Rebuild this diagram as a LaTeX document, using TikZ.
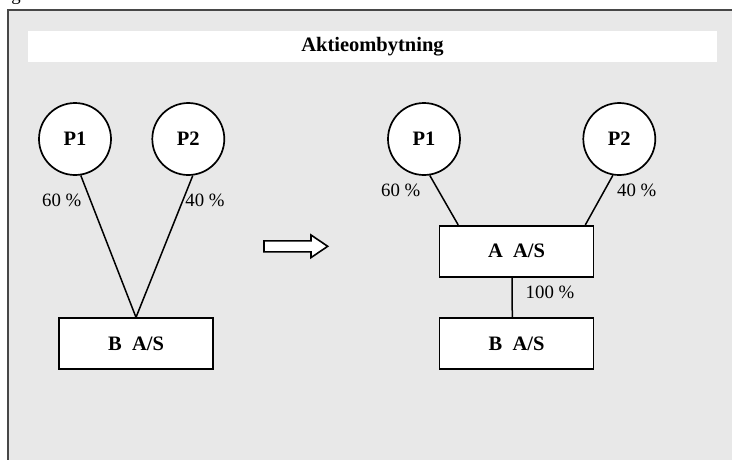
\documentclass[tikz,border=0pt]{standalone}
\usepackage{fontspec}
\setmainfont{Liberation Serif}
\begin{document}
\begin{tikzpicture}[x=1pt,y=-1pt,
  owner/.style={circle,draw,line width=1.7pt,fill=white,minimum size=72pt,inner sep=0pt,
    font=\fontsize{20.5}{24}\selectfont\bfseries},
  company/.style={rectangle,draw,line width=1.7pt,fill=white,minimum width=154pt,minimum height=51pt,
    inner sep=0pt,font=\fontsize{20.5}{24}\selectfont\bfseries},
  share/.style={inner sep=0pt,font=\fontsize{18.8}{22}\selectfont},
  link/.style={line width=1.5pt}]
\useasboundingbox (0,0) rectangle (732,459);
\clip (0,0) rectangle (732,459);

% caption line above the frame (only its descender shows)
\node[share,anchor=base] (cap) at (16,0) {g};

% frame and title bar
\draw[line width=1.9pt,draw=black!72,fill=black!9] (8,10) rectangle (745,470);
\fill[white] (28,31) rectangle (717,62);
\node[font=\fontsize{20.5}{24}\selectfont\bfseries] (title) at (372.5,46.5) {Aktieombytning};

% before: P1 and P2 own B directly
\node[owner] (lp1) at (75,139) {P1};
\node[owner] (lp2) at (188.3,139) {P2};
\node[company] (lb) at (136,343.7) {B\ \ A/S};
\draw[link] (lp1.-81) -- (lb.north);
\draw[link] (lp2.-83) -- (lb.north);
\node[share] (l60) at (61.7,200) {60 \%};
\node[share] (l40) at (205,200) {40 \%};

% exchange arrow
\draw[line width=1.6pt,fill=white,line join=miter]
  (264,240.8) -- (311,240.8) -- (311,235) -- (327.7,246.3) -- (311,257.6)
  -- (311,251.8) -- (264,251.8) -- cycle;

% after: P1 and P2 own A, A owns B
\node[owner] (rp1) at (424,139) {P1};
\node[owner] (rp2) at (619.3,139) {P2};
\node[company] (ra) at (516.5,251.2) {A\ \ A/S};
\node[company] (rb) at (516.5,343.7) {B\ \ A/S};
\coordinate (ra1) at ([xshift=19.5pt]ra.north west);
\coordinate (ra2) at ([xshift=-9pt]ra.north east);
\draw[link] (rp1.-81.5) -- (ra1);
\draw[link] (rp2.-100) -- (ra2);
\draw[link] ([xshift=-4.5pt]ra.south) -- ([xshift=-4.2pt]rb.north);
\node[share] (r60) at (400.7,190) {60 \%};
\node[share] (r40) at (636.7,190) {40 \%};
\node[share] (r100) at (550,292.7) {100 \%};
\end{tikzpicture}
\end{document}
